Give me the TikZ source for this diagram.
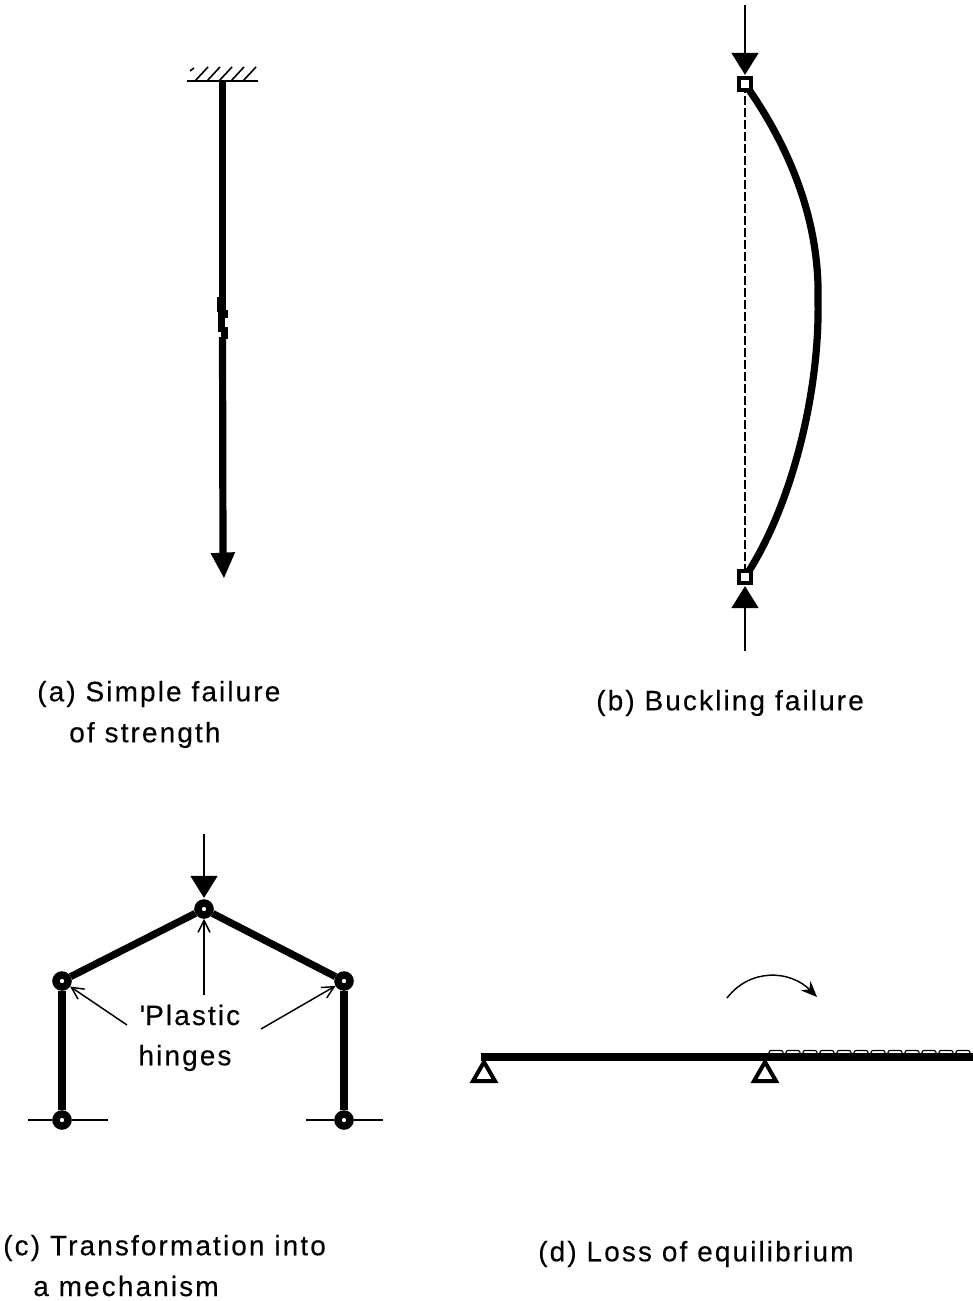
\documentclass[tikz,border=0pt]{standalone}
\usepackage{fontspec}
\setmainfont[LetterSpace=7.5,FakeBold=0.25]{Liberation Sans}
\usetikzlibrary{arrows.meta}
\tikzset{
  member/.style={line width=5.4pt},
  thinbar/.style={line width=2.2pt},
  loadarrow/.style={line width=1.9pt,-{Triangle[length=16.5pt,width=20pt]}},
  notearrow/.style={line width=1.1pt,-{Straight Barb[length=9pt,width=9pt,line width=1.1pt]}},
  hinge/.style={circle,draw,line width=5.6pt,fill=white,minimum size=9pt,inner sep=0pt},
  pin/.style={rectangle,draw,line width=2.6pt,fill=white,minimum size=9pt,inner sep=0pt},
  caption/.style={anchor=west,inner sep=0pt,font=\fontsize{21}{25}\selectfont},
  support/.style={line width=3pt,fill=white,line join=miter}
}
\begin{document}
\begin{tikzpicture}[x=0.75pt,y=-0.75pt,>=Latex]
  \useasboundingbox (0,0) rectangle (973,1301);
  % (a) strength
  \coordinate (wallL) at (187,81);
  \coordinate (wallR) at (258,81);
  \coordinate (rodtop) at (222.5,81);
  \coordinate (rodneck) at (223,556);
  \coordinate (rodend) at (224,578);
  \draw[thinbar] (wallL)--(wallR);
  \draw[line width=1.2pt] (190,71)--(194,68);
  \foreach \x in {195,207,219,231,243}{
    \draw[line width=1.2pt] (\x,81)--(\x+13,67);
  }
  \draw[member] (rodtop)--(222.5,298);
  \draw[line width=6.75pt] (221.5,297)--(221.5,312);
  \draw[line width=7.5pt] (223,310)--(223,318);
  \draw[member] (221.5,315)--(221.5,332);
  \draw[member] (224.5,327)--(224.5,339);
  \draw[member] (222.5,337)--(rodneck);
  \draw[line width=1.9pt,-{Triangle[length=19pt,width=18pt]}] (rodneck)--(rodend);
  \node[caption] (capa1) at (37,694) {(a) Simple failure};
  \node[caption] (capa2) at (69,735) {of strength};

  % (b) buckling
  \coordinate (pintopc) at (745,84);
  \coordinate (pinbotc) at (745,577);
  \coordinate (loadtop) at (745,5);
  \coordinate (loadbot) at (745,651);
  \draw[line width=1.5pt,dash pattern=on 6.5pt off 2.5pt] (pintopc)--(pinbotc);
  \draw[member] (pintopc) .. controls (785,140) and (820,215) .. (818,300)
      .. controls (820,395) and (790,510) .. (pinbotc);
  \node[pin] (pintop) at (pintopc) {};
  \node[pin] (pinbot) at (pinbotc) {};
  \draw[loadarrow,shorten >=1pt] (loadtop)--(pintop);
  \draw[loadarrow,shorten >=1pt] (loadbot)--(pinbot);
  \node[caption] (capb) at (596,703) {(b) Buckling failure};

  % (c) mechanism
  \node[hinge] (apex) at (204,909) {};
  \node[hinge] (kneeL) at (62,981) {};
  \node[hinge] (kneeR) at (344,981) {};
  \node[hinge] (footL) at (62,1120) {};
  \node[hinge] (footR) at (344,1120) {};
  \draw[thinbar] (28,1120)--(footL);
  \draw[thinbar] (footL)--(108,1120);
  \draw[thinbar] (306,1120)--(footR);
  \draw[thinbar] (footR)--(383,1120);
  \draw[member] (footL)--(kneeL);
  \draw[member] (kneeL)--(apex);
  \draw[member] (apex)--(kneeR);
  \draw[member] (kneeR)--(footR);
  \coordinate (apexload) at (204,834);
  \draw[loadarrow,shorten >=1pt] (apexload)--(apex);
  \node[caption,anchor=center] (plastic) at (190,1015) {\textquotesingle Plastic};
  \node[caption,anchor=center] (hinges) at (185,1058) {hinges};
  \draw[notearrow] (204,995)--(apex);
  \draw[notearrow] (127,1025)--(kneeL);
  \draw[notearrow] (261,1029)--(kneeR);
  \node[caption] (capc1) at (3,1248) {(c) Transformation into};
  \node[caption] (capc2) at (33,1286) {a mechanism};

  % (d) equilibrium
  \coordinate (beamL) at (481,1057);
  \coordinate (beamR) at (973,1057);
  \foreach \x in {769,786,...,960}{
    \draw[line width=0.9pt,rounded corners=1.5pt] (\x,1056) rectangle (\x+14,1050.5);
  }
  \draw[member] (beamL)--(beamR);
  \foreach \x in {484,765}{
    \draw[support] (\x,1062)--(\x+11,1081)--(\x-11,1081)--cycle;
  }
  \coordinate (tipfrom) at (727,998);
  \coordinate (tipto) at (817,997);
  \draw[line width=1.1pt,-{Stealth[length=12pt,width=10pt]}] (tipfrom) .. controls (750,968) and (790,970) .. (tipto);
  \node[caption] (capd) at (538,1254) {(d) Loss of equilibrium};
\end{tikzpicture}
\end{document}
